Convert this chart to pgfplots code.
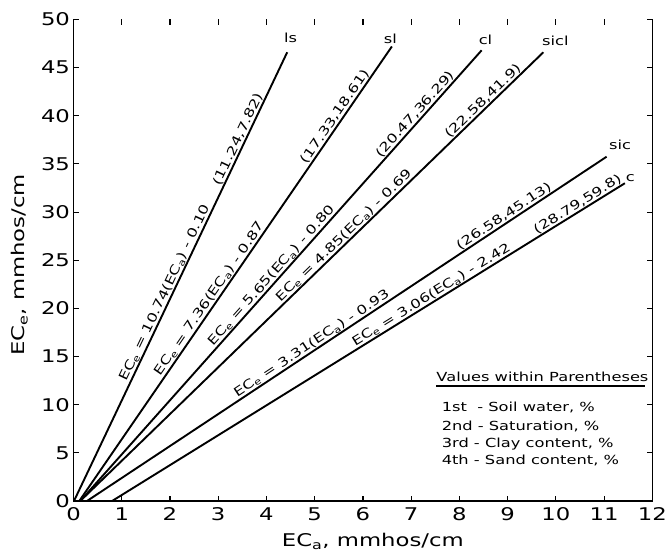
\documentclass[border=0pt]{standalone}
\usepackage{fontspec}
\setmainfont[FakeStretch=1.3]{DejaVu Sans}
\usepackage{pgfplots}
\pgfplotsset{compat=1.18}
\newcommand{\lbl}{\fontsize{12.5}{15}\selectfont}
\newcommand{\bigfnt}{\fontsize{17.5}{20}\selectfont}
\begin{document}
\begin{tikzpicture}
\begin{axis}[
  scale only axis, width=578.9pt, height=481.5pt,
  xmin=0, xmax=12, ymin=0, ymax=50,
  xtick={0,1,...,12}, ytick={0,5,...,50},
  tick align=inside, tick pos=both,
  major tick length=5.5pt,
  tick style={line width=1.1pt, black},
  axis line style={draw=none},
  clip=false,
  /pgf/number format/assume math mode=true,
  ticklabel style={font=\bigfnt},
  xticklabel style={yshift=-3pt},
  xlabel={EC\textsubscript{a}, mmhos/cm},
  ylabel={EC\textsubscript{e}, mmhos/cm},
  label style={font=\bigfnt},
  xlabel style={at={(axis description cs:0.517,-0.0955)}, anchor=base},
  ylabel style={at={(axis description cs:-0.0838,0.49)}, anchor=base},
]
\coordinate (SW) at (rel axis cs:0,0);
\draw[line width=1.5pt] (rel axis cs:0,1) -- (rel axis cs:0,0) -- (rel axis cs:1,0) -- (rel axis cs:1,1);

% ls
\addplot[black, line width=1.9pt] coordinates {(0.01,0) (4.43,46.6)}
  node[sloped, pos=0.457, anchor=south, inner sep=0.5pt, font=\lbl] {EC\textsubscript{e} = 10.74(EC\textsubscript{a}) - 0.10}
  node[sloped, pos=0.80, anchor=south, inner sep=0.5pt, font=\lbl] {(11.24,7.82)};
% sl
\addplot[black, line width=1.9pt] coordinates {(0.12,0) (6.60,47.2)}
  node[sloped, pos=0.436, anchor=south, inner sep=0.5pt, font=\lbl] {EC\textsubscript{e} = 7.36(EC\textsubscript{a}) - 0.87}
  node[sloped, pos=0.837, anchor=south, inner sep=0.5pt, font=\lbl] {(17.33,18.61)};
% cl
\addplot[black, line width=1.9pt] coordinates {(0.14,0) (8.46,46.8)}
  node[sloped, pos=0.49, anchor=south, inner sep=0.5pt, font=\lbl] {EC\textsubscript{e} = 5.65(EC\textsubscript{a}) - 0.80}
  node[sloped, pos=0.848, anchor=south, inner sep=0.5pt, font=\lbl] {(20.47,36.29)};
% sicl
\addplot[black, line width=1.9pt] coordinates {(0.14,0) (9.74,46.6)}
  node[sloped, pos=0.58, anchor=south, inner sep=0.5pt, font=\lbl] {EC\textsubscript{e} = 4.85(EC\textsubscript{a}) - 0.69}
  node[sloped, pos=0.88, anchor=south, inner sep=0.5pt, font=\lbl] {(22.58,41.9)};
% sic
\addplot[black, line width=1.9pt] coordinates {(0.28,0) (11.05,35.75)}
  node[sloped, pos=0.44, anchor=south, inner sep=0.5pt, font=\lbl] {EC\textsubscript{e} = 3.31(EC\textsubscript{a}) - 0.93}
  node[sloped, pos=0.81, anchor=south, inner sep=0.5pt, font=\lbl] {(26.58,45.13)};
% c
\addplot[black, line width=1.9pt] coordinates {(0.80,0) (11.43,33.0)}
  node[sloped, pos=0.63, anchor=south, inner sep=0.5pt, font=\lbl] {EC\textsubscript{e} = 3.06(EC\textsubscript{a}) - 2.42}
  node[sloped, pos=0.915, anchor=south, inner sep=0.5pt, font=\lbl] {(28.79,59.8)};

\node[font=\lbl] at (axis cs:4.50,48.1) {ls};
\node[font=\lbl] at (axis cs:6.57,48.0) {sl};
\node[font=\lbl] at (axis cs:8.54,47.9) {cl};
\node[font=\lbl] at (axis cs:9.99,47.8) {sicl};
\node[font=\lbl] at (axis cs:11.33,37.0) {sic};
\node[font=\lbl] at (axis cs:11.54,33.5) {c};

\node[font=\lbl, anchor=base west, inner sep=0pt] at (axis cs:7.52,12.38) {Values within Parentheses};
\draw[line width=1.1pt] (axis cs:7.52,11.94) -- (axis cs:11.85,11.94);
\node[font=\lbl, anchor=base west, inner sep=0pt] at (axis cs:7.63,9.27) {1st\ \ - Soil water, \%};
\node[font=\lbl, anchor=base west, inner sep=0pt] at (axis cs:7.63,7.37) {2nd - Saturation, \%};
\node[font=\lbl, anchor=base west, inner sep=0pt] at (axis cs:7.63,5.58) {3rd - Clay content, \%};
\node[font=\lbl, anchor=base west, inner sep=0pt] at (axis cs:7.63,3.81) {4th - Sand content, \%};
\end{axis}
\pgfresetboundingbox
\path[use as bounding box] (SW) ++(-73.5pt,-53pt) rectangle ++(668pt,554pt);
\end{tikzpicture}
\end{document}
